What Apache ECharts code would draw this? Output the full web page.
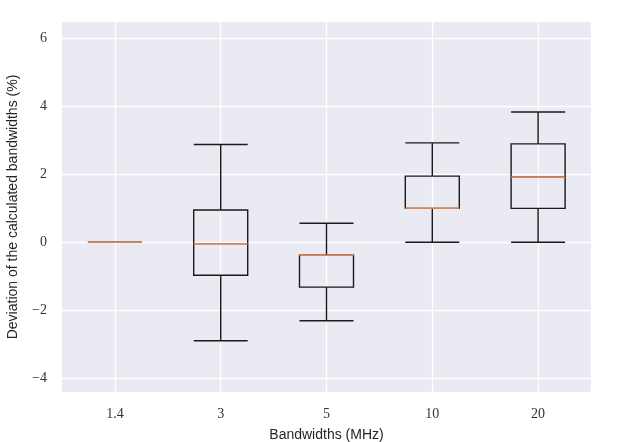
<!DOCTYPE html>
<html lang="en">
	<head>
		<meta charset="UTF-8" />
		<title>Bandwidth deviation</title>
		<script src="https://cdn.jsdelivr.net/npm/echarts@6.0.0/dist/echarts.min.js"></script>
		<style>
			html, body { margin: 0; padding: 0; background: #fff; }
			#chart { width: 626px; height: 442px; }
		</style>
	</head>
	<body>
		<div id="chart"></div>
		<script>
			// bandwidth categories (MHz)
			const categories = ['1.4', '3', '5', '10', '20']
			// [min, Q1, median, Q3, max] in %
			const bw14 = [0, 0, 0, 0, 0]
			const bw3 = [-2.9, -0.97, -0.04, 0.95, 2.88]
			const bw5 = [-2.31, -1.32, -0.38, -0.38, 0.56]
			const bw10 = [0, 1.0, 1.0, 1.95, 2.93]
			const bw20 = [0, 1.0, 1.92, 2.9, 3.84]
			const yTicks = [-4, -2, 0, 2, 4, 6]

			const boxes = [bw14, bw3, bw5, bw10, bw20]
			const medians = boxes.map((b, i) => [i, b[2]])

			const chart = echarts.init(document.getElementById('chart'), null, { renderer: 'canvas' })
			const serif = '"Liberation Serif", "DejaVu Serif", serif'
			const sans = '"Liberation Sans", "DejaVu Sans", sans-serif'

			const option = {
				backgroundColor: '#fff',
				animation: false,
				grid: {
					left: 62, right: 35, top: 22, bottom: 50,
					outerBoundsMode: 'none',
					show: true, backgroundColor: '#eaeaf2', borderWidth: 0
				},
				xAxis: {
					type: 'category',
					data: categories,
					name: 'Bandwidths (MHz)',
					nameLocation: 'middle',
					nameGap: 36,
					nameTextStyle: { fontFamily: sans, fontSize: 14, color: '#262626' },
					axisLine: { show: false },
					axisTick: { show: false, alignWithLabel: true },
					axisLabel: { fontFamily: serif, fontSize: 14, color: '#333', margin: 15 },
					splitLine: { show: true, alignWithLabel: true, lineStyle: { color: '#fff', width: 1.3 } }
				},
				yAxis: {
					type: 'value',
					min: -4.41,
					max: 6.49,
					name: 'Deviation of the calculated bandwidths (%)',
					nameLocation: 'middle',
					nameGap: 42,
					nameTextStyle: { fontFamily: sans, fontSize: 14, color: '#262626' },
					axisLine: { show: false },
					axisTick: { show: false, customValues: yTicks },
					axisLabel: {
						fontFamily: serif, fontSize: 14, color: '#333', margin: 15,
						customValues: yTicks,
						formatter: v => String(v).replace('-', '\u2212')
					},
					splitLine: { show: true, lineStyle: { color: '#fff', width: 1.3 } }
				},
				series: [
					{
						type: 'boxplot',
						data: boxes,
						boxWidth: [54, 54],
						itemStyle: { color: 'transparent', borderColor: '#1a1a1a', borderWidth: 1.4 },
						z: 2
					},
					{
						type: 'custom',
						data: medians,
						z: 3,
						renderItem: function (params, api) {
							const p = api.coord([api.value(0), api.value(1)])
							return {
								type: 'line',
								shape: { x1: p[0] - 27, y1: p[1], x2: p[0] + 27, y2: p[1] },
								style: { stroke: '#dd8452', lineWidth: 1.5 }
							}
						}
					}
				]
			}
			chart.setOption(option)
		</script>
	</body>
</html>
